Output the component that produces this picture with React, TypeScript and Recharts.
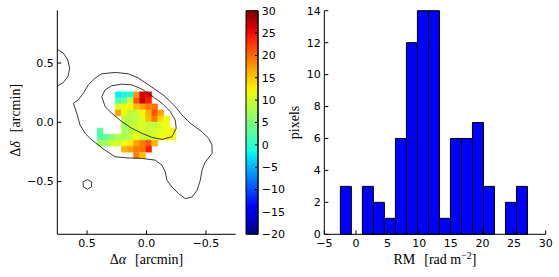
import React from 'react';
import { ComposedChart, XAxis, YAxis, Line, ReferenceArea, Label } from 'recharts';

// ---------------- histogram data ----------------
const histEdges = [-2.46, -0.72, 1.02, 2.76, 4.5, 6.24, 7.98, 9.72, 11.46, 13.2, 14.94, 16.68, 18.42, 20.16, 21.9, 23.64, 25.38, 27.12];
const histCounts = [3, 0, 3, 2, 1, 6, 12, 14, 14, 1, 6, 6, 7, 3, 0, 2, 3];
const histXTicks = [-5, 0, 5, 10, 15, 20, 25, 30];
const histYTicks = [0, 2, 4, 6, 8, 10, 12, 14];

// ---------------- RM map data (arcmin) ----------------
const mapColX = [0.39, 0.339, 0.288, 0.237, 0.186, 0.135, 0.084, 0.033, -0.018, -0.069, -0.12, -0.171, -0.222];
const mapRowY = [0.232, 0.181, 0.13, 0.079, 0.028, -0.023, -0.074, -0.125, -0.176, -0.227, -0.278];
const _ = null;
const rmRow0 = [_, _, _, -2, -1.5, -1, 17.5, 26, 25.5, _, _, _, _];
const rmRow1 = [_, _, _, 2, 4, 10, 21, 26.5, 24, _, _, _, _];
const rmRow2 = [_, _, _, 11, 12, 12.5, 15.5, 17, 19, 19.5, _, _, _];
const rmRow3 = [_, _, _, 17, 12, 9, 9.5, 12.5, 16, 21, 17, _, _];
const rmRow4 = [_, _, _, _, 9, 8.5, 9, 11, 15.5, 19, 14, 12, _];
const rmRow5 = [_, _, _, _, 7.5, 9, 10, 10.5, 9.5, 9, 11, 12, _];
const rmRow6 = [2.5, _, _, _, 7.5, 8.5, 10, 11, 9.5, 10.5, 11, 12, 12.5];
const rmRow7 = [2, 3.5, 5.5, 7.8, 7, 9, 12, 9, 10, 10.5, 12, 12.5, 12];
const rmRow8 = [7.5, 7, 10, 10.5, 12, 13, 16.9, 19, 21, 16, _, _, _];
const rmRow9 = [_, _, _, _, 16, 17, 19, 19.5, 24, _, _, _, _];
const rmRow10 = [_, _, _, _, _, _, 19, 15.5, _, _, _, _, _];
const rmRows = [rmRow0, rmRow1, rmRow2, rmRow3, rmRow4, rmRow5, rmRow6, rmRow7, rmRow8, rmRow9, rmRow10];
const mapTicks = [-0.5, 0, 0.5];
const cbarTicks = [-20, -15, -10, -5, 0, 5, 10, 15, 20, 25, 30];

// contours (arcmin)
const outerContour: [number, number][] = [
  [0.264, 0.421], [0.152, 0.409], [0.067, 0.373], [-0.017, 0.316], [-0.087, 0.268], [-0.158, 0.217],
  [-0.242, 0.132], [-0.298, 0.062], [-0.368, -0.008], [-0.467, -0.08], [-0.522, -0.136], [-0.551, -0.192],
  [-0.551, -0.263], [-0.494, -0.334], [-0.467, -0.404], [-0.452, -0.489], [-0.425, -0.574], [-0.382, -0.631],
  [-0.326, -0.644], [-0.27, -0.602], [-0.214, -0.546], [-0.172, -0.489], [-0.158, -0.419], [-0.13, -0.362],
  [-0.073, -0.319], [0.039, -0.305], [0.165, -0.3], [0.264, -0.291], [0.348, -0.235], [0.404, -0.192],
  [0.46, -0.15], [0.516, -0.093], [0.559, -0.023], [0.586, 0.076], [0.615, 0.161], [0.573, 0.189],
  [0.531, 0.246], [0.489, 0.316], [0.432, 0.373], [0.376, 0.409], [0.264, 0.421],
];
const innerContour: [number, number][] = [
  [0.376, 0.217], [0.348, 0.274], [0.292, 0.308], [0.207, 0.322], [0.123, 0.316], [0.039, 0.28],
  [-0.045, 0.223], [-0.13, 0.161], [-0.2, 0.09], [-0.242, 0.019], [-0.25, -0.051], [-0.214, -0.122],
  [-0.13, -0.144], [-0.045, -0.127], [0.039, -0.093], [0.123, -0.051], [0.207, 0.005], [0.292, 0.076],
  [0.348, 0.132], [0.376, 0.217],
];
const hexContour: [number, number][] = [
  [0.497, -0.483], [0.461, -0.503], [0.463, -0.545], [0.497, -0.565], [0.531, -0.545], [0.534, -0.503], [0.497, -0.483],
];
const cornerContour: [number, number][] = [
  [0.76, 0.62], [0.7, 0.585], [0.663, 0.528], [0.646, 0.458], [0.66, 0.387], [0.699, 0.336], [0.76, 0.3],
];

// ---------------- styling helpers ----------------
const SANS = "'DejaVu Sans', sans-serif";
const SERIF = "'Liberation Serif', 'DejaVu Serif', serif";
const TICK_FONT = 11;
const LABEL_FONT = 14;

const jetR: [number, number][] = [[0, 0], [0.35, 0], [0.66, 1], [0.89, 1], [1, 0.5]];
const jetG: [number, number][] = [[0, 0], [0.125, 0], [0.375, 1], [0.64, 1], [0.91, 0], [1, 0]];
const jetB: [number, number][] = [[0, 0.5], [0.11, 1], [0.34, 1], [0.65, 0], [1, 0]];
function seg(s: [number, number][], t: number) {
  for (let i = 1; i < s.length; i++) {
    if (t <= s[i][0]) {
      const [t0, v0] = s[i - 1];
      const [t1, v1] = s[i];
      return v0 + ((t - t0) / (t1 - t0)) * (v1 - v0);
    }
  }
  return s[s.length - 1][1];
}
function jetT(t: number) {
  const tt = Math.max(0, Math.min(1, t));
  const r = Math.round(255 * seg(jetR, tt));
  const g = Math.round(255 * seg(jetG, tt));
  const b = Math.round(255 * seg(jetB, tt));
  return `rgb(${r},${g},${b})`;
}
const jet = (v: number) => jetT((v + 20) / 50);

const fmtMinus = (v: number, d = 0) => (v < 0 ? '\u2212' : '') + Math.abs(v).toFixed(d);
const toPts = (arr: [number, number][]) => arr.map(([x, y]) => ({ x, y }));

const tickStyle = { fontSize: TICK_FONT, fill: '#000', fontFamily: SANS };
const blank = () => '';
const HALF = 0.0255;

// ---------------- labels ----------------
const MapXLabel = (props: any) => {
  const vb = props.viewBox;
  return (
    <text x={vb.x + vb.width / 2} y={vb.y + 30} textAnchor="middle" fontFamily={SERIF} fontSize={LABEL_FONT} fill="#000">
      Δ<tspan fontStyle="italic">α</tspan>
      <tspan dx={9}>[arcmin]</tspan>
    </text>
  );
};
const MapYLabel = (props: any) => {
  const vb = props.viewBox;
  return (
    <text transform={`translate(${20},${vb.y + vb.height / 2 - 2}) rotate(-90)`} textAnchor="middle" fontFamily={SERIF} fontSize={LABEL_FONT} fill="#000">
      Δ<tspan fontStyle="italic">δ</tspan>
      <tspan dx={9}>[arcmin]</tspan>
    </text>
  );
};
const RmText = ({ x, y, rotate }: { x: number; y: number; rotate?: boolean }) => (
  <text transform={`translate(${x},${y})${rotate ? ' rotate(-90)' : ''}`} textAnchor="middle" fontFamily={SERIF} fontSize={LABEL_FONT} fill="#000">
    RM<tspan dx={9}>[rad m</tspan>
    <tspan dy={-5} fontSize={10}>{'\u22122'}</tspan>
    <tspan dy={5}>]</tspan>
  </text>
);
const CbarLabel = (props: any) => {
  const vb = props.viewBox;
  return <RmText x={vb.x - 10} y={66} rotate />;
};
const HistXLabel = (props: any) => {
  const vb = props.viewBox;
  return <RmText x={vb.x + vb.width / 2} y={vb.y + 30} />;
};
const HistYLabel = (props: any) => {
  const vb = props.viewBox;
  return (
    <text transform={`translate(${19},${vb.y + vb.height / 2}) rotate(-90)`} textAnchor="middle" fontFamily={SERIF} fontSize={LABEL_FONT} fill="#000">
      pixels
    </text>
  );
};

const axisCommon = {
  stroke: '#000',
  axisLine: { stroke: '#000', strokeWidth: 1 },
  tickLine: { stroke: '#000', strokeWidth: 1 },
  tickSize: -4,
  tick: tickStyle,
  allowDataOverflow: true,
};

export default function App() {
  const jetStops = [];
  for (let i = 0; i <= 40; i++) {
    const t = i / 40;
    jetStops.push(<stop key={i} offset={`${t * 100}%`} stopColor={jetT(t)} />);
  }

  return (
    <div style={{ position: 'absolute', left: 0, top: 0, width: 559, height: 277, background: '#fff', overflow: 'hidden' }}>
      {/* RM map */}
      <div style={{ position: 'absolute', left: 0, top: 0 }}>
        <ComposedChart width={240} height={277} margin={{ top: 10.3, right: 4.3, bottom: 0, left: 0 }}>
          <XAxis xAxisId={0} type="number" dataKey="x" domain={[-0.75, 0.75]} reversed ticks={mapTicks}
            tickFormatter={(v: number) => fmtMinus(v, 1)} height={42.7} tickMargin={8.5} {...axisCommon}>
            <Label content={MapXLabel} />
          </XAxis>
          <XAxis xAxisId="top" orientation="top" type="number" dataKey="x" domain={[-0.75, 0.75]} reversed ticks={mapTicks}
            tickFormatter={blank} height={0} {...axisCommon} />
          <YAxis yAxisId={0} type="number" dataKey="y" domain={[-0.945, 0.945]} ticks={mapTicks}
            tickFormatter={(v: number) => fmtMinus(v, 1)} width={57.3} tickMargin={7.5} {...axisCommon}>
            <Label content={MapYLabel} />
          </YAxis>
          <YAxis yAxisId="right" orientation="right" type="number" domain={[-0.945, 0.945]} ticks={mapTicks}
            tickFormatter={blank} width={0} {...axisCommon}>
            <Label content={CbarLabel} />
          </YAxis>
          {rmRows.flatMap((row, r) =>
            row.map((v, c) =>
              v === null ? null : (
                <ReferenceArea key={`p${r}-${c}`} x1={mapColX[c] + HALF} x2={mapColX[c] - HALF}
                  y1={mapRowY[r] - HALF} y2={mapRowY[r] + HALF} fill={jet(v)} fillOpacity={1}
                  stroke={jet(v)} strokeWidth={0.4} ifOverflow="visible" />
              )
            )
          )}
          <Line data={toPts(outerContour)} dataKey="y" type="linear" dot={false} activeDot={false} stroke="#222" strokeWidth={0.9} isAnimationActive={false} />
          <Line data={toPts(innerContour)} dataKey="y" type="linear" dot={false} activeDot={false} stroke="#222" strokeWidth={0.9} isAnimationActive={false} />
          <Line data={toPts(hexContour)} dataKey="y" type="linear" dot={false} activeDot={false} stroke="#222" strokeWidth={0.9} isAnimationActive={false} />
          <Line data={toPts(cornerContour)} dataKey="y" type="linear" dot={false} activeDot={false} stroke="#222" strokeWidth={0.9} isAnimationActive={false} />
        </ComposedChart>
      </div>

      {/* colorbar */}
      <div style={{ position: 'absolute', left: 240, top: 0 }}>
        <ComposedChart width={60} height={277} margin={{ top: 10.7, right: 0, bottom: 42.7, left: 6 }}>
          <defs>
            <linearGradient id="jetGrad" x1="0" y1="1" x2="0" y2="0">
              {jetStops}
            </linearGradient>
          </defs>
          <XAxis type="number" dataKey="x" domain={[0, 1]} hide allowDataOverflow />
          <YAxis yAxisId={0} orientation="right" type="number" domain={[-20, 30]} ticks={cbarTicks}
            tickFormatter={(v: number) => fmtMinus(v)} width={42} tickMargin={6.7} {...axisCommon} tickSize={-3} />
          <ReferenceArea x1={0} x2={1} y1={-20} y2={30} fill="url(#jetGrad)" fillOpacity={1} stroke="#000" strokeWidth={1} ifOverflow="visible" />
        </ComposedChart>
      </div>

      {/* histogram */}
      <div style={{ position: 'absolute', left: 280, top: 0 }}>
        <ComposedChart width={279} height={277} margin={{ top: 10.7, right: 13.3, bottom: 0, left: 0 }}>
          <XAxis xAxisId={0} type="number" dataKey="x" domain={[-5, 30]} ticks={histXTicks}
            tickFormatter={(v: number) => fmtMinus(v)} height={42.7} tickMargin={8.5} {...axisCommon}>
            <Label content={HistXLabel} />
          </XAxis>
          <XAxis xAxisId="top" orientation="top" type="number" domain={[-5, 30]} ticks={histXTicks}
            tickFormatter={blank} height={0} {...axisCommon} />
          <YAxis yAxisId={0} type="number" domain={[0, 14]} ticks={histYTicks}
            tickFormatter={(v: number) => fmtMinus(v)} width={44.3} tickMargin={7.5} {...axisCommon}>
            <Label content={HistYLabel} />
          </YAxis>
          <YAxis yAxisId="right" orientation="right" type="number" domain={[0, 14]} ticks={histYTicks}
            tickFormatter={blank} width={0} {...axisCommon} />
          {histCounts.map((cnt, i) =>
            cnt > 0 ? (
              <ReferenceArea key={`h${i}`} x1={histEdges[i]} x2={histEdges[i + 1]} y1={0} y2={cnt}
                fill="#0000ff" fillOpacity={1} stroke="#000" strokeWidth={1} ifOverflow="visible" />
            ) : null
          )}
        </ComposedChart>
      </div>
    </div>
  );
}
